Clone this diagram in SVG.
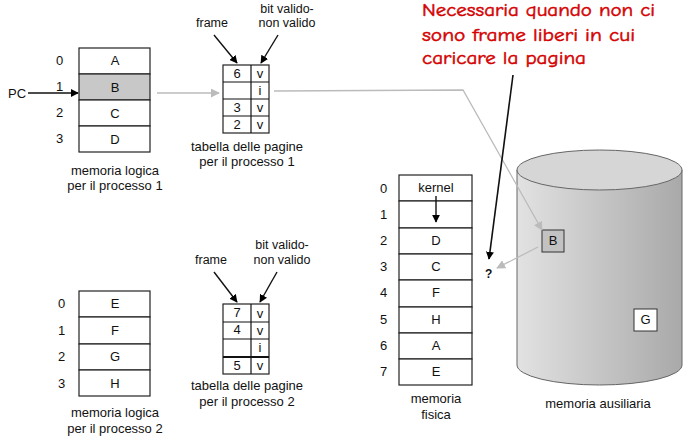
<svg xmlns="http://www.w3.org/2000/svg" width="696" height="446" viewBox="0 0 696 446">
<defs>
<marker id="ab" viewBox="0 0 10 10" refX="9" refY="5" markerWidth="8" markerHeight="8" markerUnits="userSpaceOnUse" orient="auto"><path d="M0,0 L10,5 L0,10 z" fill="#000"/></marker>
<marker id="ag" viewBox="0 0 10 10" refX="9" refY="5" markerWidth="9" markerHeight="9" markerUnits="userSpaceOnUse" orient="auto"><path d="M0,0 L10,5 L0,10 z" fill="#bbb"/></marker>
<linearGradient id="cyl" x1="0" y1="0" x2="1" y2="0"><stop offset="0" stop-color="#e2e2e2"/><stop offset="1" stop-color="#a9a9a9"/></linearGradient>
<style>
text{font-family:"Liberation Sans",Arial,sans-serif;font-size:13px;fill:#111}
.c{text-anchor:middle}
.s{font-size:12.5px}
.cell{fill:#fff;stroke:#222;stroke-width:1.2}
.blk{stroke:#111;stroke-width:1.4;fill:none}
.gry{stroke:#bbb;stroke-width:1.3;fill:none}
.red{font-family:"Comic Neue","Comic Sans MS","DejaVu Sans",sans-serif;font-size:19px;fill:#d40000;stroke:#d40000;stroke-width:0.5}
</style>
</defs>

<g id="note">
<text class="red" x="422" y="16" textLength="233" lengthAdjust="spacingAndGlyphs">Necessaria quando non ci</text>
<text class="red" x="422" y="41" textLength="213" lengthAdjust="spacingAndGlyphs">sono frame liberi in cui</text>
<text class="red" x="422" y="64" textLength="164" lengthAdjust="spacingAndGlyphs">caricare la pagina</text>
</g>

<g id="logica1">
<rect class="cell" x="79" y="48" width="71" height="26"/>
<rect class="cell" x="79" y="74" width="71" height="26" style="fill:#c8c8c8"/>
<rect class="cell" x="79" y="100" width="71" height="26"/>
<rect class="cell" x="79" y="126" width="71" height="26"/>
<text class="c" x="115" y="65">A</text>
<text class="c" x="115" y="92">B</text>
<text class="c" x="115" y="118">C</text>
<text class="c" x="115" y="144">D</text>
<text x="56" y="65">0</text>
<text x="56" y="91">1</text>
<text x="56" y="117">2</text>
<text x="56" y="143">3</text>
<text x="8" y="98">PC</text>
<text class="c" x="115" y="175">memoria logica</text>
<text class="c" x="115" y="190">per il processo 1</text>
</g>

<g id="tabella1">
<rect class="cell" x="223" y="65" width="46" height="68"/>
<line class="blk" x1="223" y1="82" x2="269" y2="82" style="stroke-width:1.2"/>
<line class="blk" x1="223" y1="99" x2="269" y2="99" style="stroke-width:1.2"/>
<line class="blk" x1="223" y1="116" x2="269" y2="116" style="stroke-width:1.2"/>
<line class="blk" x1="251" y1="65" x2="251" y2="133" style="stroke-width:1.2"/>
<text class="c" x="237" y="78">6</text>
<text class="c" x="260" y="78">v</text>
<text class="c" x="260" y="95">i</text>
<text class="c" x="237" y="112">3</text>
<text class="c" x="260" y="112">v</text>
<text class="c" x="237" y="129">2</text>
<text class="c" x="260" y="129">v</text>
<text class="c s" x="212" y="27">frame</text>
<text class="c s" x="287" y="13">bit valido-</text>
<text class="c s" x="287" y="27">non valido</text>
<text class="c" x="247" y="151">tabella delle pagine</text>
<text class="c" x="247" y="166">per il processo 1</text>
</g>

<g id="logica2">
<rect class="cell" x="79" y="291" width="71" height="26"/>
<rect class="cell" x="79" y="317" width="71" height="27"/>
<rect class="cell" x="79" y="344" width="71" height="26"/>
<rect class="cell" x="79" y="370" width="71" height="26"/>
<text class="c" x="115" y="308">E</text>
<text class="c" x="115" y="335">F</text>
<text class="c" x="115" y="361">G</text>
<text class="c" x="115" y="388">H</text>
<text x="58" y="308">0</text>
<text x="58" y="335">1</text>
<text x="58" y="361">2</text>
<text x="58" y="388">3</text>
<text class="c" x="115" y="417">memoria logica</text>
<text class="c" x="115" y="433">per il processo 2</text>
</g>

<g id="tabella2">
<rect class="cell" x="223" y="304" width="46" height="70"/>
<line class="blk" x1="223" y1="322" x2="269" y2="322" style="stroke-width:1.2"/>
<line class="blk" x1="223" y1="339" x2="269" y2="339" style="stroke-width:1.2"/>
<line class="blk" x1="223" y1="357" x2="269" y2="357" style="stroke-width:2"/>
<line class="blk" x1="251" y1="304" x2="251" y2="374" style="stroke-width:1.2"/>
<text class="c" x="237" y="317">7</text>
<text class="c" x="260" y="318">v</text>
<text class="c" x="237" y="334">4</text>
<text class="c" x="260" y="335">v</text>
<text class="c" x="260" y="352">i</text>
<text class="c" x="237" y="370">5</text>
<text class="c" x="260" y="370">v</text>
<text class="c s" x="211" y="264">frame</text>
<text class="c s" x="282" y="249">bit valido-</text>
<text class="c s" x="282" y="264">non valido</text>
<text class="c" x="247" y="390">tabella delle pagine</text>
<text class="c" x="247" y="406">per il processo 2</text>
</g>

<g id="fisica">
<rect class="cell" x="399" y="175" width="73" height="26"/>
<rect class="cell" x="399" y="201" width="73" height="27"/>
<rect class="cell" x="399" y="228" width="73" height="26"/>
<rect class="cell" x="399" y="254" width="73" height="26"/>
<rect class="cell" x="399" y="280" width="73" height="27"/>
<rect class="cell" x="399" y="307" width="73" height="26"/>
<rect class="cell" x="399" y="333" width="73" height="26"/>
<rect class="cell" x="399" y="359" width="73" height="26"/>
<text class="c" x="436" y="192">kernel</text>
<text class="c" x="436" y="245">D</text>
<text class="c" x="436" y="271">C</text>
<text class="c" x="436" y="297">F</text>
<text class="c" x="436" y="324">H</text>
<text class="c" x="436" y="350">A</text>
<text class="c" x="436" y="376">E</text>
<text x="380" y="193">0</text>
<text x="380" y="219">1</text>
<text x="380" y="245">2</text>
<text x="380" y="271">3</text>
<text x="380" y="297">4</text>
<text x="380" y="324">5</text>
<text x="380" y="350">6</text>
<text x="380" y="376">7</text>
<text class="c" x="436" y="403">memoria</text>
<text class="c" x="436" y="419">fisica</text>
<text x="485" y="278" style="font-weight:bold;font-size:12px">?</text>
</g>

<g id="ausiliaria">
<path d="M517,170 L517,365 A82.5,20 0 0 0 682,365 L682,170 Z" fill="url(#cyl)" stroke="#666" stroke-width="1"/>
<ellipse cx="599.5" cy="170" rx="82.5" ry="20" fill="#d6d6d6" stroke="#666" stroke-width="1"/>
<rect x="542" y="230" width="22" height="22" fill="#c2c2c2" stroke="#333" stroke-width="1"/>
<text class="c" x="553" y="245">B</text>
<rect x="634" y="309" width="23" height="22" fill="#fff" stroke="#333" stroke-width="1"/>
<text class="c" x="645.5" y="324">G</text>
<text class="c" x="598" y="408">memoria ausiliaria</text>
</g>

<g id="connectors">
<line class="blk" x1="28" y1="93" x2="78" y2="93" marker-end="url(#ab)"/>
<line class="gry" x1="157" y1="93" x2="219" y2="93" marker-end="url(#ag)"/>
<polyline class="gry" points="274,91 463,90 542,230" marker-end="url(#ag)"/>
<line class="gry" x1="538" y1="247" x2="497" y2="268" marker-end="url(#ag)"/>
<line class="blk" x1="214" y1="35" x2="237" y2="63" marker-end="url(#ab)"/>
<line class="blk" x1="278" y1="35" x2="261" y2="63" marker-end="url(#ab)"/>
<line class="blk" x1="214" y1="272" x2="237" y2="302" marker-end="url(#ab)"/>
<line class="blk" x1="277" y1="272" x2="260" y2="302" marker-end="url(#ab)"/>
<line class="blk" x1="436" y1="196" x2="436" y2="222" marker-end="url(#ab)"/>
<line class="blk" x1="513" y1="75" x2="489" y2="259" marker-end="url(#ab)" style="stroke-width:1.6"/>
</g>
</svg>
